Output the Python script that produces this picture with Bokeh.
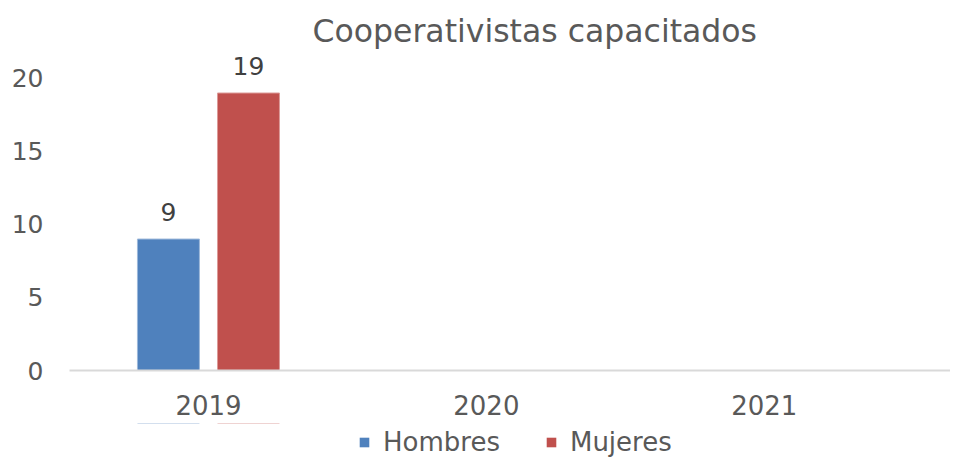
import math
from bokeh.plotting import figure
from bokeh.layouts import column
from bokeh.models import ColumnDataSource, Range1d, FixedTicker, Legend, LegendItem
from bokeh.core.properties import value
from bokeh.embed import file_html
from bokeh.resources import INLINE

categories = ["2019", "2020", "2021"]
hombres = [9, None, None]
mujeres = [19, None, None]
series_names = ["Hombres", "Mujeres"]
y_ticks = [0, 5, 10, 15, 20]
title_text = "Cooperativistas capacitados"

FONT = "DejaVu Sans"
BLUE = "#4F81BD"
RED = "#C0504D"
BLUE_EDGE = "#9db8da"
RED_EDGE = "#dc9a98"

p = figure(width=950, height=423, output_backend="svg", toolbar_location=None,
           x_range=Range1d(0, 3.17), y_range=Range1d(0, 21.5),
           min_border_left=69, min_border_right=0, min_border_top=56, min_border_bottom=53)
p.outline_line_color = None
p.background_fill_color = "white"
p.xgrid.visible = False
p.ygrid.visible = False

p.title.text = title_text
p.title.text_font = FONT
p.title.text_font_size = "31.5px"
p.title.text_font_style = "normal"
p.title.text_color = "#595959"
p.title.align = "left"
p.title.offset = 243
p.title.standoff = 15

def make_src(vals, offset):
    xs, ys, labels = [], [], []
    for i, v in enumerate(vals):
        if v is None:
            continue
        xs.append(i + 0.5 + offset)
        ys.append(v)
        labels.append(str(v))
    return ColumnDataSource(dict(x=xs, top=ys, label=labels))

src_h = make_src(hombres, -0.144)
src_m = make_src(mujeres, 0.144)

r_h = p.vbar(x="x", top="top", width=0.223, bottom=0, source=src_h,
             fill_color=BLUE, line_color=BLUE_EDGE, line_width=1)
r_m = p.vbar(x="x", top="top", width=0.223, bottom=0, source=src_m,
             fill_color=RED, line_color=RED_EDGE, line_width=1)

for src in (src_h, src_m):
    p.text(x="x", y="top", text="label", source=src, text_align="center",
           text_baseline="bottom", y_offset=-18, text_font=value(FONT),
           text_font_size="25px", text_color="#404040")

# x axis
xa = p.xaxis[0]
xa.ticker = FixedTicker(ticks=[i + 0.5 for i in range(len(categories))])
xa.major_label_overrides = {i + 0.5: c for i, c in enumerate(categories)}
xa.axis_line_color = "#d9d9d9"
xa.axis_line_width = 2
xa.major_tick_line_color = None
xa.minor_tick_line_color = None
xa.major_tick_out = 0
xa.major_tick_in = 0
xa.minor_tick_out = 0
xa.axis_label_standoff = 0
xa.major_label_standoff = 24
xa.major_label_text_font = FONT
xa.major_label_text_font_size = "26px"
xa.major_label_text_color = "#595959"

# y axis
ya = p.yaxis[0]
ya.ticker = FixedTicker(ticks=y_ticks)
ya.axis_line_color = None
ya.major_tick_line_color = None
ya.minor_tick_line_color = None
ya.major_tick_out = 0
ya.major_tick_in = 0
ya.minor_tick_out = 0
ya.major_label_standoff = 26
ya.major_label_text_font = FONT
ya.major_label_text_font_size = "25px"
ya.major_label_text_color = "#595959"

# legend strip (separate figure below the axis labels; its frame aligns with p's frame)
lg = figure(width=950, height=36, output_backend="svg", toolbar_location=None,
            x_range=Range1d(0, 3.17), y_range=Range1d(-40, -39),
            x_axis_type=None, y_axis_type=None,
            min_border_left=69, min_border_right=0, min_border_top=0, min_border_bottom=0)
lg.outline_line_color = None
lg.xgrid.visible = False
lg.ygrid.visible = False
# same series drawn outside the strip's visible range: used only as legend swatches
proxy_h = lg.vbar(x="x", top="top", width=0.223, bottom=0, source=src_h,
                  fill_color=BLUE, line_color=None)
proxy_m = lg.vbar(x="x", top="top", width=0.223, bottom=0, source=src_m,
                  fill_color=RED, line_color=None)

legend = Legend(items=[LegendItem(label=series_names[0], renderers=[proxy_h]),
                       LegendItem(label=series_names[1], renderers=[proxy_m])],
                orientation="horizontal", location=(289, 2),
                label_text_font=FONT, label_text_font_size="26px",
                label_text_color="#595959", glyph_width=12, glyph_height=12,
                spacing=45, padding=2, margin=0, border_line_color=None,
                background_fill_alpha=0, label_standoff=13)
lg.add_layout(legend, "center")

layout = column(p, lg, spacing=0)
open("out.html", "w").write(file_html(layout, INLINE))
